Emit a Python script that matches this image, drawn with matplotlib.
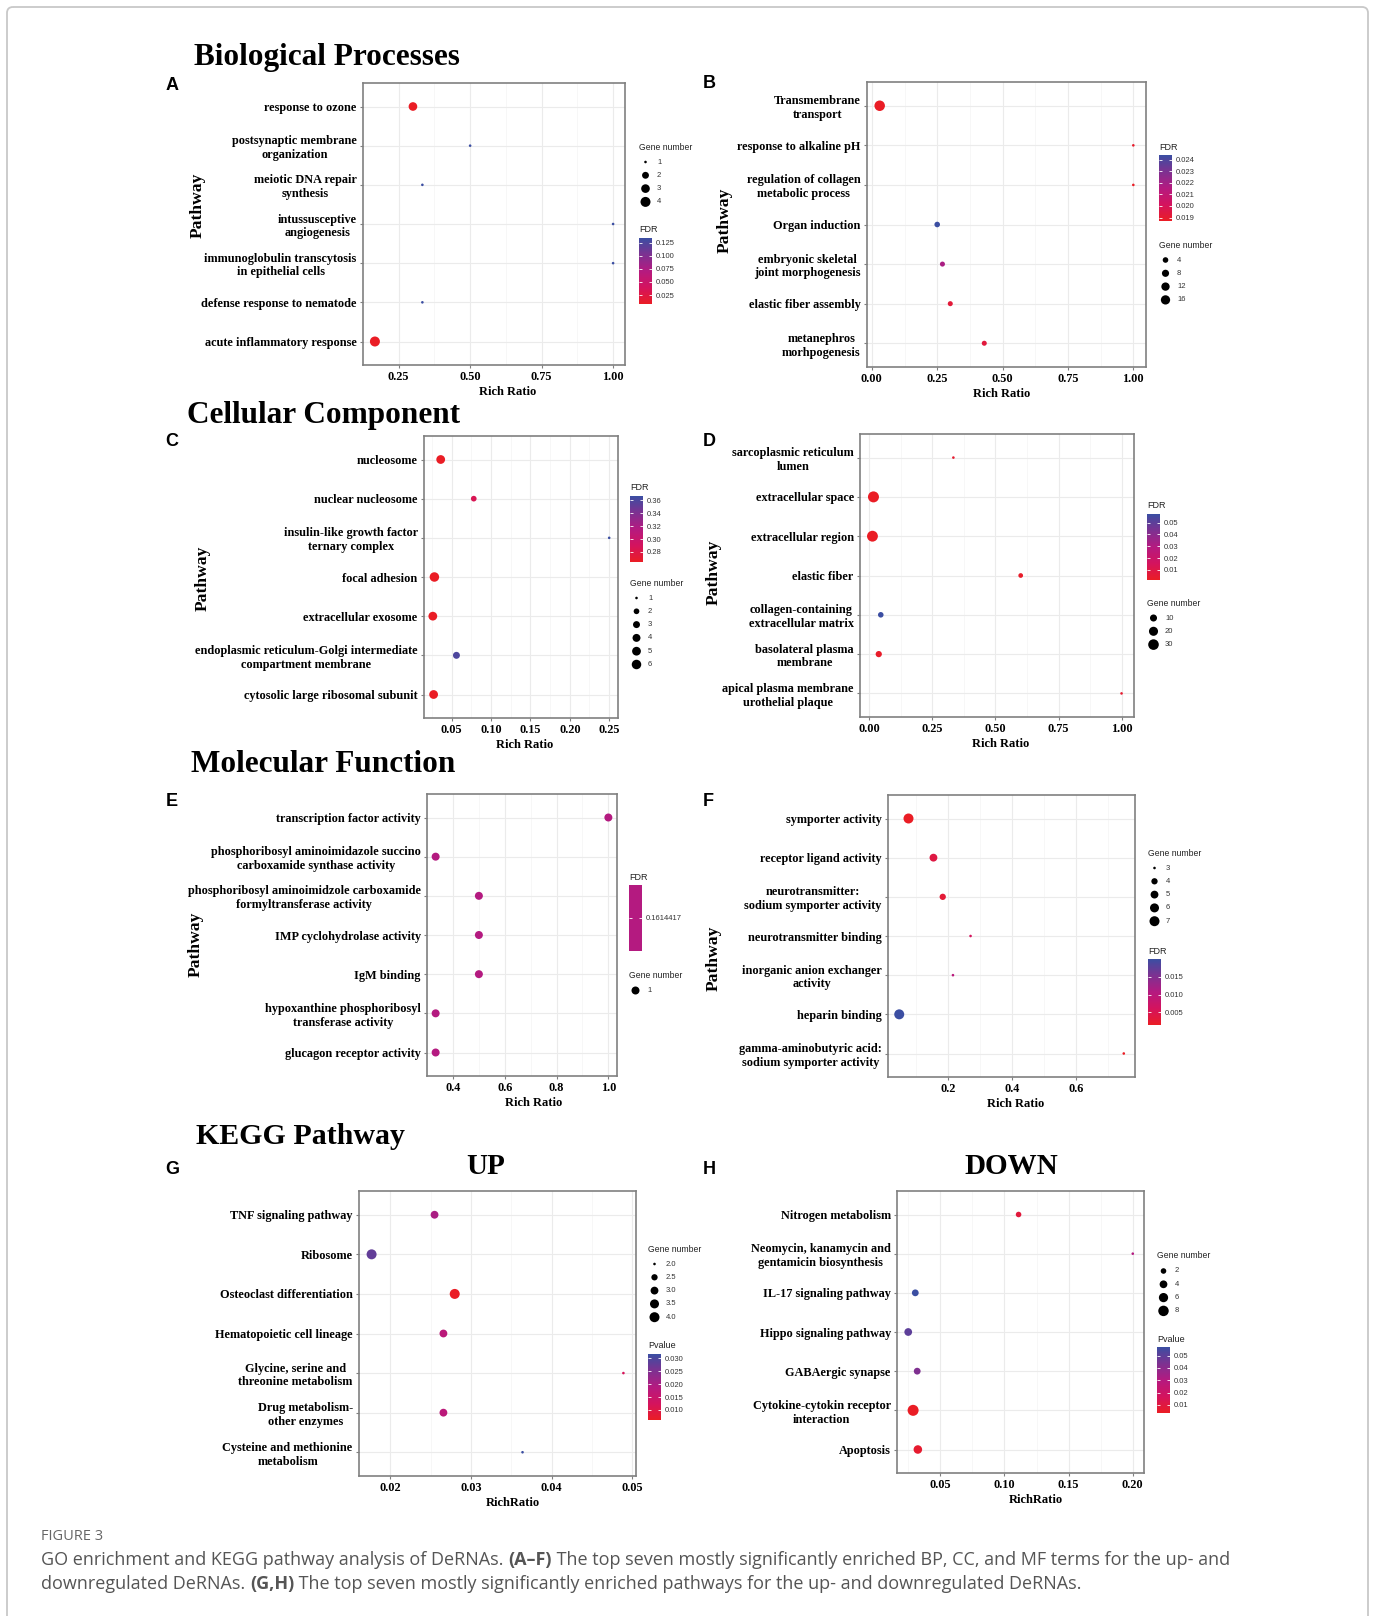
import numpy as np
import matplotlib
matplotlib.use('Agg')
import matplotlib.pyplot as plt
from matplotlib.colors import LinearSegmentedColormap, ListedColormap, Normalize
from matplotlib.patches import FancyBboxPatch

# ---- data ----
a_terms = ['response to ozone', 'postsynaptic membrane\norganization', 'meiotic DNA repair\nsynthesis',
           'intussusceptive\nangiogenesis', 'immunoglobulin transcytosis\nin epithelial cells',
           'defense response to nematode', 'acute inflammatory response']
a_ratio = [0.30, 0.50, 0.333, 1.00, 1.00, 0.333, 0.167]
a_genes = [3, 1, 1, 1, 1, 1, 4]
a_fdr = [0.008, 0.134, 0.134, 0.134, 0.134, 0.134, 0.008]

b_terms = ['Transmembrane\ntransport', 'response to alkaline pH', 'regulation of collagen\nmetabolic process',
           'Organ induction', 'embryonic skeletal\njoint morphogenesis', 'elastic fiber assembly',
           'metanephros\nmorhpogenesis']
b_ratio = [0.03, 1.00, 1.00, 0.25, 0.27, 0.30, 0.43]
b_genes = [22, 1, 1, 4, 3, 3, 3]
b_fdr = [0.0187, 0.0189, 0.0187, 0.0244, 0.0218, 0.0192, 0.0193]

c_terms = ['nucleosome', 'nuclear nucleosome', 'insulin-like growth factor\nternary complex', 'focal adhesion',
           'extracellular exosome', 'endoplasmic reticulum-Golgi intermediate\ncompartment membrane',
           'cytosolic large ribosomal subunit']
c_ratio = [0.036, 0.078, 0.25, 0.028, 0.026, 0.056, 0.027]
c_genes = [5, 2, 1, 6, 5, 3, 5]
c_fdr = [0.2644, 0.285, 0.3668, 0.2644, 0.2644, 0.360, 0.2644]

d_terms = ['sarcoplasmic reticulum\nlumen', 'extracellular space', 'extracellular region', 'elastic fiber',
           'collagen-containing\nextracellular matrix', 'basolateral plasma\nmembrane',
           'apical plasma membrane\nurothelial plaque']
d_ratio = [0.333, 0.016, 0.012, 0.60, 0.045, 0.037, 1.00]
d_genes = [1, 33, 32, 3, 5, 7, 1]
d_fdr = [0.004, 0.0015, 0.0015, 0.003, 0.0573, 0.003, 0.004]

e_terms = ['transcription factor activity', 'phosphoribosyl aminoimidazole succino\ncarboxamide synthase activity',
           'phosphoribosyl aminoimidzole carboxamide\nformyltransferase activity', 'IMP cyclohydrolase activity',
           'IgM binding', 'hypoxanthine phosphoribosyl\ntransferase activity', 'glucagon receptor activity']
e_ratio = [1.00, 0.333, 0.50, 0.50, 0.50, 0.333, 0.333]
e_genes = [1, 1, 1, 1, 1, 1, 1]
e_fdr = [0.1614417] * 7

f_terms = ['symporter activity', 'receptor ligand activity', 'neurotransmitter:\nsodium symporter activity',
           'neurotransmitter binding', 'inorganic anion exchanger\nactivity', 'heparin binding',
           'gamma-aminobutyric acid:\nsodium symporter activity']
f_ratio = [0.077, 0.155, 0.184, 0.271, 0.216, 0.048, 0.75]
f_genes = [7, 5, 4, 3, 3, 7, 3]
f_fdr = [0.0015, 0.004, 0.003, 0.006, 0.010, 0.0199, 0.0015]

g_terms = ['TNF signaling pathway', 'Ribosome', 'Osteoclast differentiation', 'Hematopoietic cell lineage',
           'Glycine, serine and\nthreonine metabolism', 'Drug metabolism-\nother enzymes',
           'Cysteine and methionine\nmetabolism']
g_ratio = [0.0255, 0.0177, 0.0280, 0.0266, 0.0489, 0.0266, 0.0364]
g_genes = [3, 4, 4, 3, 2, 3, 2]
g_pval = [0.020, 0.0278, 0.0061, 0.0176, 0.012, 0.0176, 0.0317]

h_terms = ['Nitrogen metabolism', 'Neomycin, kanamycin and\ngentamicin biosynthesis', 'IL-17 signaling pathway',
           'Hippo signaling pathway', 'GABAergic synapse', 'Cytokine-cytokin receptor\ninteraction', 'Apoptosis']
h_ratio = [0.111, 0.20, 0.0305, 0.025, 0.032, 0.0288, 0.0325]
h_genes = [2, 1, 3, 4, 3, 9, 5]
h_pval = [0.009, 0.030, 0.0569, 0.050, 0.043, 0.0035, 0.006]

# ---- figure setup ----
W, H = 1375, 1616
SERIF = 'Liberation Serif'
SANS = 'Liberation Sans'
fig = plt.figure(figsize=(W / 100, H / 100), dpi=100)

cmap = LinearSegmentedColormap.from_list(
    'redblue', ['#EA1D25', '#D4135E', '#B41A80', '#7D3191', '#3B4EA2'])

lay = fig.add_axes([0, 0, 1, 1])
lay.set_xlim(0, W)
lay.set_ylim(H, 0)
lay.axis('off')
lay.add_patch(FancyBboxPatch((7, 7), W - 14, H + 60, boxstyle='round,pad=0,rounding_size=6',
                             fc='none', ec='#C8C8C8', lw=1.3, clip_on=False))


def dot_size(v, rng, dmax, dmin=2.6, fixed=None):
    v = np.asarray(v, float)
    if fixed is not None:
        d = np.full_like(v, fixed)
    else:
        d = dmin + (dmax - dmin) * np.sqrt((v - rng[0]) / (rng[1] - rng[0]))
    return (d * 0.72) ** 2


def panel(rect, terms, ratio, genes, col, xticks, xfmt, srng, dmax, norm, cm=cmap, fixed=None,
          xlabel='Rich Ratio', xl_dx=0):
    l, t, r, b = rect
    ax = fig.add_axes([l / W, 1 - b / H, (r - l) / W, (b - t) / H])
    n = len(terms)
    ypos = np.arange(n)[::-1]
    lo, hi = min(ratio), max(ratio)
    pad = 0.05 * (hi - lo)
    ax.set_xlim(lo - pad, hi + pad)
    ax.set_ylim(-0.6, n - 0.4)
    sc = ax.scatter(ratio, ypos, s=dot_size(genes, srng, dmax, fixed=fixed), c=col, cmap=cm, norm=norm,
                    linewidths=0, zorder=3)
    ax.set_yticks(ypos)
    ax.set_yticklabels(terms, fontfamily=SERIF, fontweight='bold', fontsize=8.8)
    for tl in ax.get_yticklabels():
        tl.set_multialignment('center')
    ax.set_xticks(xticks)
    ax.set_xticklabels([xfmt.format(v) for v in xticks], fontfamily=SERIF, fontweight='bold', fontsize=8.8)
    step = xticks[1] - xticks[0]
    minor = np.arange(xticks[0] - step / 2, xticks[-1] + step, step)
    minor = [m for m in minor if lo - pad < m < hi + pad and min(abs(m - x) for x in xticks) > 1e-9]
    ax.set_xticks(minor, minor=True)
    ax.tick_params(axis='x', which='minor', length=0)
    ax.grid(True, which='major', color='#EBEBEB', lw=0.8)
    ax.grid(True, which='minor', axis='x', color='#F4F4F4', lw=0.5)
    ax.set_axisbelow(True)
    for s in ax.spines.values():
        s.set_color('#808080')
        s.set_linewidth(1.2)
    ax.tick_params(which='major', length=2.5, width=0.8, color='#808080')
    ax.tick_params(axis='x', pad=1.5)
    ax.tick_params(axis='y', pad=2)
    ax.set_xlabel(xlabel, fontfamily=SERIF, fontweight='bold', fontsize=9, labelpad=2.5)
    ax.xaxis.label.set_x(0.5 + xl_dx / (r - l))
    return ax, sc


def size_legend(x, y, breaks, rng, dmax, fmt='{:g}', fixed=None):
    lay.text(x, y, 'Gene number', fontsize=6.2, family=SANS, color='#222222', va='center')
    ys = y + 15 + 13.3 * np.arange(len(breaks))
    lay.scatter([x + 6.5] * len(breaks), ys, s=dot_size(breaks, rng, dmax, fixed=fixed), c='black',
                linewidths=0)
    for yy, bv in zip(ys, breaks):
        lay.text(x + 18, yy, fmt.format(bv), fontsize=5.5, family=SANS, color='#333333', va='center')


def color_legend(x, y, sc, ticks, fmt, title='FDR'):
    lay.text(x, y, title, fontsize=6.5, family=SANS, color='#222222', va='center')
    cax = fig.add_axes([x / W, 1 - (y + 8 + 66) / H, 13 / W, 66 / H])
    cb = fig.colorbar(sc, cax=cax, ticks=ticks)
    cb.outline.set_visible(False)
    cb.ax.minorticks_off()
    cb.ax.set_yticklabels([fmt.format(v) for v in ticks])
    cax.tick_params(axis='y', which='major', direction='in', length=2.5, width=0.6, color='white',
                    left=True, right=True, labelsize=5.5, labelcolor='#333333', pad=3)
    for tl in cax.get_yticklabels():
        tl.set_family(SANS)


# ---- panels ----
ax, sc = panel((363, 83, 625, 365), a_terms, a_ratio, a_genes, a_fdr, [0.25, 0.5, 0.75, 1.0], '{:.2f}',
               (1, 4), 10, Normalize(0.008, 0.134), xl_dx=14)
size_legend(639, 147, [1, 2, 3, 4], (1, 4), 10)
color_legend(639, 230, sc, [0.025, 0.05, 0.075, 0.1, 0.125], '{:.3f}')

ax, sc = panel((867, 82, 1146, 367), b_terms, b_ratio, b_genes, b_fdr, [0, 0.25, 0.5, 0.75, 1.0], '{:.2f}',
               (1, 22), 10.5, Normalize(0.0187, 0.0244), xl_dx=-5)
color_legend(1159, 147, sc, [0.019, 0.020, 0.021, 0.022, 0.023, 0.024], '{:.3f}')
size_legend(1159, 245, [4, 8, 12, 16], (1, 22), 10.5)

ax, sc = panel((424, 436, 618, 718), c_terms, c_ratio, c_genes, c_fdr, [0.05, 0.10, 0.15, 0.20, 0.25], '{:.2f}',
               (1, 6), 9.5, Normalize(0.2644, 0.3668), xl_dx=4)
color_legend(630, 488, sc, [0.28, 0.30, 0.32, 0.34, 0.36], '{:.2f}')
size_legend(630, 583, [1, 2, 3, 4, 5, 6], (1, 6), 9.5)

ax, sc = panel((860, 434, 1134, 717), d_terms, d_ratio, d_genes, d_fdr, [0, 0.25, 0.5, 0.75, 1.0], '{:.2f}',
               (1, 33), 11, Normalize(0.0015, 0.0573), xl_dx=4)
color_legend(1147, 506, sc, [0.01, 0.02, 0.03, 0.04, 0.05], '{:.2f}')
size_legend(1147, 603, [10, 20, 30], (1, 33), 11)

e_cmap = ListedColormap([cmap(0.5)])
ax, sc = panel((427, 794, 617, 1076), e_terms, e_ratio, e_genes, e_fdr, [0.4, 0.6, 0.8, 1.0], '{:.1f}',
               (1, 1), 8, Normalize(e_fdr[0] - 1e-3, e_fdr[0] + 1e-3), cm=e_cmap, fixed=8, xl_dx=12)
color_legend(629, 877, sc, [e_fdr[0]], '{:.7f}')
size_legend(629, 975, [1], (1, 1), 8, fixed=8)

ax, sc = panel((888, 795, 1135, 1077), f_terms, f_ratio, f_genes, f_fdr, [0.2, 0.4, 0.6], '{:.1f}',
               (3, 7), 10, Normalize(0.0015, 0.0199), xl_dx=4)
size_legend(1148, 853, [3, 4, 5, 6, 7], (3, 7), 10)
color_legend(1148, 951, sc, [0.005, 0.010, 0.015], '{:.3f}')

ax, sc = panel((359, 1191, 636, 1476), g_terms, g_ratio, g_genes, g_pval, [0.02, 0.03, 0.04, 0.05], '{:.2f}',
               (2, 4), 10, Normalize(0.0061, 0.0317), xlabel='RichRatio', xl_dx=15)
size_legend(648, 1249, [2.0, 2.5, 3.0, 3.5, 4.0], (2, 4), 10, fmt='{:.1f}')
color_legend(648, 1346, sc, [0.010, 0.015, 0.020, 0.025, 0.030], '{:.3f}', title='Pvalue')

ax, sc = panel((897, 1191, 1144, 1473), h_terms, h_ratio, h_genes, h_pval, [0.05, 0.10, 0.15, 0.20], '{:.2f}',
               (1, 9), 11, Normalize(0.0035, 0.0569), xlabel='RichRatio', xl_dx=15)
size_legend(1157, 1256, [2, 4, 6, 8], (1, 9), 11)
color_legend(1157, 1339, sc, [0.01, 0.02, 0.03, 0.04, 0.05], '{:.2f}', title='Pvalue')

# ---- titles, letters, axis titles ----
for txt, x, y, fs in [('Biological Processes', 194, 57, 22.5), ('Cellular Component', 187, 415, 22.5),
                      ('Molecular Function', 191, 764, 22.5), ('KEGG Pathway', 196, 1136, 21.5)]:
    lay.text(x, y, txt, family=SERIF, fontweight='bold', fontsize=fs, va='center', ha='left')
lay.text(486, 1166, 'UP', family=SERIF, fontweight='bold', fontsize=21, va='center', ha='center')
lay.text(1011, 1166, 'DOWN', family=SERIF, fontweight='bold', fontsize=21, va='center', ha='center')

for let, x, y in [('A', 172, 85), ('B', 709, 84), ('C', 172, 442), ('D', 709, 442),
                  ('E', 172, 801), ('F', 708, 801), ('G', 172, 1170), ('H', 709, 1169)]:
    lay.text(x, y, let, family=SANS, fontweight='bold', fontsize=13, va='center', ha='center')

for x, y in [(198, 205), (725, 220), (203, 578), (714, 572), (196, 944), (714, 958)]:
    lay.text(x, y, 'Pathway', family=SERIF, fontweight='bold', fontsize=12.6, rotation=90,
             va='center', ha='center')

# ---- caption ----
CAP = 'Open Sans'
GREY = '#555555'
lay.text(41, 1537, 'FIGURE 3', family=CAP, fontsize=10.5, color='#666666', va='center')
renderer = fig.canvas.get_renderer()


def rich_line(x, y, parts, size=13):
    for s, bold in parts:
        w = 'bold' if bold else 'normal'
        lay.text(x, y, s, family=CAP, fontsize=size, fontweight=w, color=GREY, va='center')
        probe = fig.text(0, 0, s + '|', family=CAP, fontsize=size, fontweight=w)
        bar = fig.text(0, 0, '|', family=CAP, fontsize=size, fontweight=w)
        x += probe.get_window_extent(renderer).width - bar.get_window_extent(renderer).width
        probe.remove()
        bar.remove()


rich_line(41, 1560, [('GO enrichment and KEGG pathway analysis of DeRNAs. ', False), ('(A\u2013F)', True),
                     (' The top seven mostly significantly enriched BP, CC, and MF terms for the up- and', False)])
rich_line(41, 1584, [('downregulated DeRNAs. ', False), ('(G,H)', True),
                     (' The top seven mostly significantly enriched pathways for the up- and downregulated DeRNAs.',
                      False)])

fig.savefig('out.png', dpi=100)
